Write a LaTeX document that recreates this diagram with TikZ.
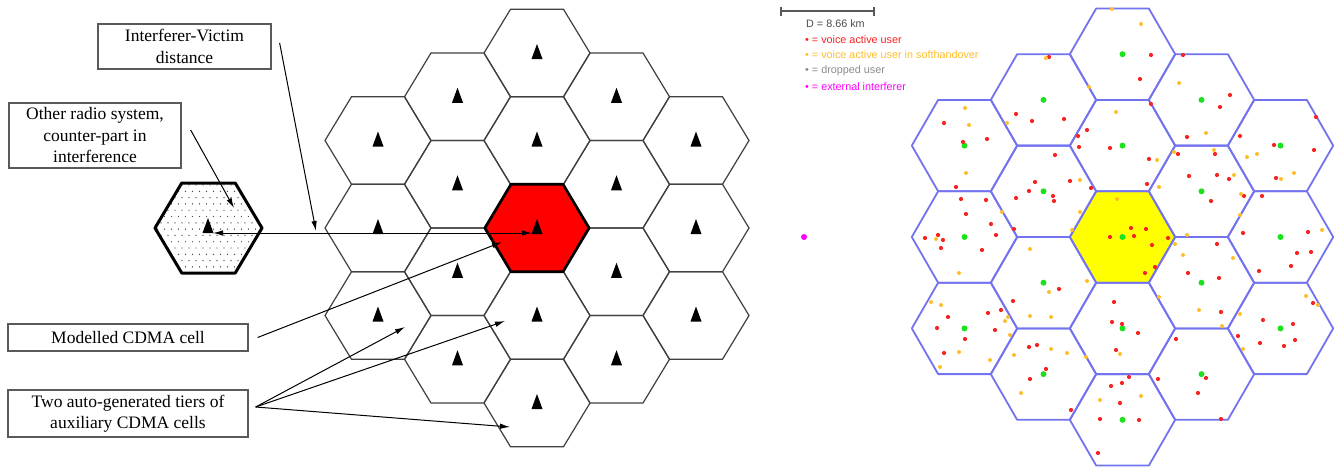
\documentclass[tikz,border=0pt]{standalone}
\usepackage{fontspec}
\setmainfont{Liberation Serif}
\newfontfamily\legfont{Liberation Sans}
\usetikzlibrary{arrows.meta}
\definecolor{hexblue}{RGB}{115,115,240}
\definecolor{ured}{RGB}{250,35,35}
\definecolor{uorange}{RGB}{255,190,40}
\definecolor{ugreen}{RGB}{30,225,30}
\definecolor{umag}{RGB}{255,0,255}
\definecolor{ugray}{RGB}{140,140,140}
\definecolor{cellred}{RGB}{255,0,0}
\definecolor{cellyellow}{RGB}{255,255,0}
\definecolor{boxline}{RGB}{90,90,90}
\newcommand\hexat[4]{(#1-#3,#2) -- (#1-#3/2,#2-#4) -- (#1+#3/2,#2-#4) -- (#1+#3,#2) -- (#1+#3/2,#2+#4) -- (#1-#3/2,#2+#4) -- cycle}
\newcommand\mtri[2]{(#1,#2-9) -- (#1+5.5,#2+6) -- (#1-5.5,#2+6) -- cycle}
\begin{document}
\begin{tikzpicture}[x=1pt,y=-1pt,
  lhex/.style={draw=black!75, line width=1.2pt},
  bhex/.style={draw=hexblue, line width=1.8pt, line join=round},
  lbox/.style={draw=boxline, line width=1.3pt, inner sep=0pt, align=center,
     font=\fontsize{17.5}{21.5}\selectfont},
  arr/.style={-{Latex[length=10pt,width=5.5pt]}, line width=1pt},
  dblarr/.style={{Latex[length=10pt,width=5.5pt]}-{Latex[length=10pt,width=5.5pt]}, line width=1pt},
  legtext/.style={anchor=west, inner sep=0pt, font=\legfont\fontsize{10.8}{12}\selectfont},
  rdot/.style={fill=ured},
  odot/.style={fill=uorange}]
\fill[white] (0,0) rectangle (1334,469);
\useasboundingbox (0,0) rectangle (1334,469);

% ---------------- left: hex grid ----------------
\foreach \c/\r in {0/-4,0/-2,0/2,0/4,-1/-3,-1/-1,-1/1,-1/3,1/-3,1/-1,1/1,1/3,-2/-2,-2/0,-2/2,2/-2,2/0,2/2}{
  \pgfmathsetmacro\hx{537+79.5*\c}
  \pgfmathsetmacro\hy{228+43.75*\r}
  \draw[lhex] \hexat{\hx}{\hy}{53}{43.75};
  \fill[black] \mtri{\hx}{\hy};
}
% modelled (red) cell
\filldraw[fill=cellred, draw=black, line width=2.6pt, line join=round] \hexat{537}{228}{52}{43.75};
\fill[black] \mtri{537}{228};
\coordinate (rc) at (537,228);

% other radio system (dotted) cell
\begin{scope}
  \clip \hexat{208.5}{228}{53.5}{45};
  \foreach \j in {0,...,14}{
    \foreach \i in {0,...,16}{
      \pgfmathsetmacro\dx{154+7*\i+3.5*mod(\j,2)}
      \pgfmathsetmacro\dy{185+6.3*\j}
      \fill[black!70] (\dx,\dy) circle (0.7);
    }
  }
\end{scope}
\draw[black, line width=3pt, line join=round] \hexat{208.5}{228}{53.5}{45};
\fill[black] \mtri{208}{227};
\coordinate (oc) at (208,228);

% ---------------- left: labels ----------------
\node[lbox, minimum width=173pt, minimum height=45pt] (ivbox) at (184.5,46.5) {Interferer-Victim\\distance};
\node[lbox, minimum width=172pt, minimum height=65pt] (orbox) at (95,135.5) {Other radio system,\\counter-part in\\interference};
\node[lbox, minimum width=240pt, minimum height=27pt] (mcbox) at (128,337.5) {Modelled CDMA cell};
\node[lbox, minimum width=240pt, minimum height=47pt] (tgbox) at (128,413.5) {Two auto-generated tiers of\\auxiliary CDMA cells};

\coordinate (ivtip) at (316,231);
\coordinate (ortip) at (234,208);
\coordinate (mctip) at (502,242);
\coordinate (tg1) at (405,327);
\coordinate (tg2) at (505,321);
\coordinate (tg3) at (510,427);

\draw[dblarr] ([shift={(5,5)}]oc) -- ([shift={(-5,5)}]rc);
\draw[arr] ([xshift=8pt,yshift=3.5pt]ivbox.east) -- (ivtip);
\draw[arr] ([xshift=9pt,yshift=5.5pt]orbox.east) -- (ortip);
\draw[arr] ([xshift=9pt]mcbox.east) -- (mctip);
\draw[arr] ([xshift=7pt,yshift=6.5pt]tgbox.east) -- (tg1);
\draw[arr] ([xshift=7pt,yshift=6.5pt]tgbox.east) -- (tg2);
\draw[arr] ([xshift=7pt,yshift=6.5pt]tgbox.east) -- (tg3);

% ---------------- right: legend ----------------
\draw[black!65, line width=1.2pt] (781,11) -- (874,11);
\draw[black!65, line width=1.2pt] (781,6.5) -- (781,15.5);
\draw[black!65, line width=1.2pt] (874,6.5) -- (874,15.5);
\node[legtext, text=black!70] (dlab) at (806,24) {D = 8.66 km};
\node[legtext, text=ured] (lg1) at (805,40) {• = voice active user};
\node[legtext, text=uorange] (lg2) at (805,55) {• = voice active user in softhandover};
\node[legtext, text=ugray] (lg3) at (805,71) {• = dropped user};
\node[legtext, text=umag] (lg4) at (805,87) {• = external interferer};

% external interferer
\fill[umag] (804,237) circle (3);

% ---------------- right: hex grid ----------------
\fill[cellyellow] \hexat{1122.5}{237}{52.7}{45.7};
\foreach \c/\r in {0/-4,0/-2,0/0,0/2,0/4,-1/-3,-1/-1,-1/1,-1/3,1/-3,1/-1,1/1,1/3,-2/-2,-2/0,-2/2,2/-2,2/0,2/2}{
  \pgfmathsetmacro\hx{1122.5+79*\c}
  \pgfmathsetmacro\hy{237+45.7*\r}
  \draw[bhex] \hexat{\hx}{\hy}{52.7}{45.7};
}
\foreach \c/\r in {0/-4,0/-2,0/0,0/2,0/4,-1/-3,-1/-1,-1/1,-1/3,1/-3,1/-1,1/1,1/3,-2/-2,-2/0,-2/2,2/-2,2/0,2/2}{
  \pgfmathsetmacro\hx{1122.5+79*\c}
  \pgfmathsetmacro\hy{237+45.7*\r}
  \fill[ugreen] (\hx,\hy) circle (3);
}
% voice active users
\foreach \ux/\uy in {1151/55,1140/79,1049/57,1183/55,1016/114,1032/121,1064/119,1230/95,1220/107,1151/104,1087/130,1078/136,1079/147,1110/148,1149/159,1147/184,944/123,963/142,987/139,956/187,1055/155,1035/182,1029/191,1053/196,1054/201,1016/198,1070/181,1091/188,1187/137,1178/154,1215/154,1189/176,1217/175,1229/179,1211/201,1244/196,1262/196,1240/136,1274/145,1276/178,1314/150,1316/117,1308/232,1243/233,961/199,986/200,966/214,991/224,996/235,1014/229,1131/228,1146/229,1134/236,1110/237,1168/238,925/238,938/235,943/240,941/248,982/250,1059/289,1013/301,1152/245,1145/273,1155/267,1217/244,1188/273,1219/278,1221/312,1297/253,1311/252,1291/266,1259/271,1313/303,1263/320,1293/324,1238/336,1260/343,1284/346,1295/340,948/317,988/313,1001/310,937/328,995/330,965/339,944/353,1029/347,1037/345,1046/369,1030/379,1071/410,1114/302,1112/322,1122/324,1138/333,1116/350,1176/339,1206/378,1198/393,1158/379,1221/419,1129/377,1122/383,1111/386,1120/403,1100/419,1139/420,1098/453}{
  \fill[rdot] (\ux,\uy) circle (2.1);
}
% users in soft handover
\foreach \ux/\uy in {1112/9,1141/24,1046/58,1089/87,1007/123,1179/83,1116/112,1157/160,1159/187,965/108,969/125,966/173,1080/180,1206/133,1174/152,1214/150,1234/175,1241/194,1247/157,1257/154,1281/179,1294/173,1322/230,1240/215,1187/235,1002/212,1080/212,1072/230,1117/199,936/239,959/273,1030/249,1049/292,1030/316,1051/317,1087/281,1175/244,1183/255,1233/258,1159/297,1199/310,1222/326,1306/296,1318/305,1240/314,1243/349,931/302,941/305,1005/321,1010/335,959/352,990/360,940/367,1008/317,1051/349,1067/353,1014/355,1021/393,1086/357,1120/354,1100/400,1141/396}{
  \fill[odot] (\ux,\uy) circle (2);
}
\end{tikzpicture}
\end{document}
